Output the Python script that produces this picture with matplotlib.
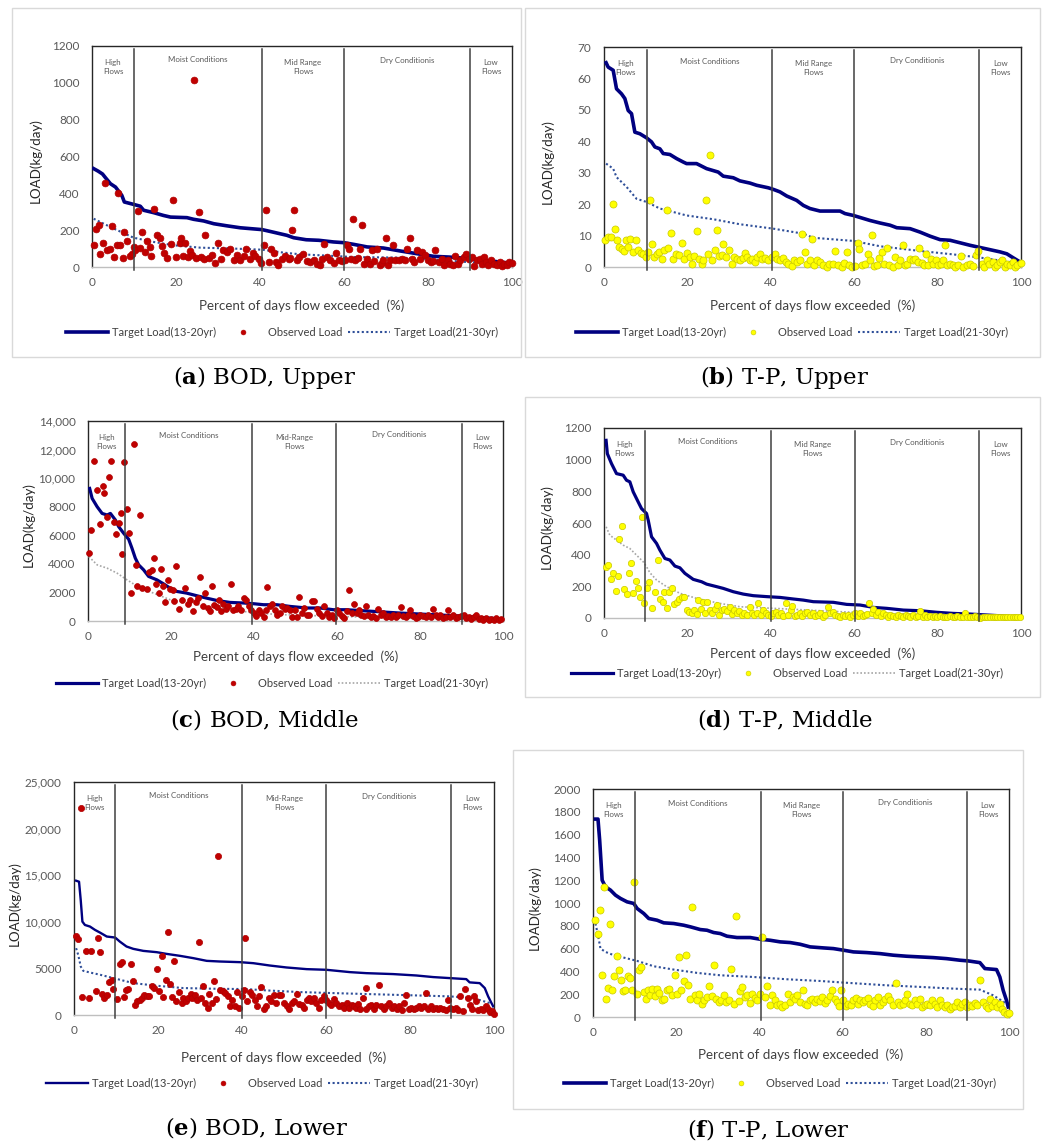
import matplotlib.pyplot as plt
from matplotlib.patches import Rectangle
from matplotlib.lines import Line2D

plt.rcParams['font.family'] = ['Lato', 'DejaVu Sans']
plt.rcParams['mathtext.fontset'] = 'custom'
plt.rcParams['mathtext.rm'] = 'DejaVu Serif'
plt.rcParams['mathtext.bf'] = 'DejaVu Serif:bold'

# ---------------- data (percent of days exceeded, load kg/day) ----------------
# (a) BOD, Upper
a_target = [(0.4,534),(1.5,520),(2.5,505),(3.2,485),(4.4,452),(5.6,434),(7.1,389),(7.7,353),(9.9,340),
            (11.5,330),(12.3,308),(14.7,295),(17.0,280),(18.7,271),(22.6,268),(24.2,259),(26.6,250),
            (29.0,235),(32.0,224),(35.3,213),(40.5,203),(43.0,190),(46.4,172),(48.0,159),(51.0,148),
            (54.0,145),(57.5,136),(60.0,132),(62.3,123),(65.5,109),(69.4,103),(73.4,87),(77.4,72),
            (81.3,58),(85.0,54),(87.3,50),(90.0,45),(93.0,38),(96.0,30),(99.0,22)]
a_target2 = [(0.4,262),(2.0,244),(4.4,217),(9.9,159),(14.7,136),(19.4,118),(25.8,105),(33.7,100),
             (40.5,94),(45.6,78),(49.6,69),(57.5,60),(62.3,54),(73.4,51),(81.3,40),(89.3,27),(99.6,18)]
a_obs = [(0.4,121),(1.0,208),(1.6,226),(2.0,72),(2.6,132),(3.2,456),(3.6,90),(4.2,100),(4.8,221),(5.3,54),
         (6.0,118),(6.1,402),(6.7,121),(7.4,49),(7.7,190),(8.3,141),(9.0,58),(9.5,69),(9.9,109),(10.3,90),
         (10.9,304),(11.5,103),(11.9,190),(12.5,81),(13.1,139),(13.7,109),(14.0,60),(14.8,317),(15.5,172),
         (16.1,159),(16.7,112),(17.1,76),(17.9,51),(18.7,127),(19.2,366),(20.1,54),(20.9,132),(21.2,156),
         (21.7,60),(22.2,132),(22.8,54),(23.3,87),(23.8,63),(24.4,1014),(24.8,49),(25.4,299),(26.0,54),
         (26.6,43),(27.0,176),(27.8,51),(28.6,63),(29.4,24),(29.9,132),(30.6,45),(31.3,90),(32.1,81),
         (32.9,100),(33.7,40),(34.5,63),(35.3,36),(36.1,58),(36.7,100),(37.5,45),(38.3,78),(38.9,60),
         (39.7,45),(40.2,24),(41.0,121),(41.4,311),(42.1,27),(42.7,100),(43.3,78),(43.9,27),(44.4,9),
         (45.2,42),(46.0,58),(46.8,45),(47.2,51),(47.6,199),(48.2,311),(48.7,36),(49.4,54),(50.2,72),
         (51.2,33),(52.0,27),(52.8,36),(53.6,18),(54.2,9),(54.8,45),(55.3,127),(55.9,54),(56.7,40),
         (57.5,24),(58.2,76),(58.7,40),(59.5,33),(60.3,36),(60.7,121),(61.1,100),(61.7,45),(62.1,262),
         (62.7,36),(63.3,51),(63.7,100),(64.3,226),(64.7,18),(65.5,45),(66.1,15),(66.7,94),(67.2,33),
         (67.9,100),(68.5,9),(69.0,22),(69.4,40),(70.1,159),(70.4,9),(71.0,36),(71.7,121),(72.2,36),
         (73.0,36),(73.8,45),(74.6,36),(75.0,100),(75.6,159),(76.2,45),(76.7,27),(77.4,90),(78.0,45),
         (78.6,81),(79.4,63),(79.9,36),(80.7,27),(81.3,33),(81.7,90),(82.5,27),(83.3,45),(83.9,9),
         (84.7,36),(85.3,18),(85.9,9),(86.5,58),(87.1,18),(87.7,36),(88.5,54),(89.1,72),(89.7,45),
         (90.5,54),(91.0,5),(91.7,36),(92.3,45),(92.9,18),(93.3,54),(93.9,27),(94.4,9),(95.0,36),
         (95.6,18),(96.4,9),(97.1,27),(97.6,5),(98.2,18),(98.8,9),(99.4,27),(100,22)]

# (b) T-P, Upper
b_target = [(0.5,65.0),(1.0,63.6),(2.2,62.6),(3.0,56.7),(4.2,55.1),(5.0,53.6),(5.8,49.8),(6.6,48.8),
            (7.4,42.9),(8.6,42.4),(10.2,41.1),(11.4,39.8),(12.2,38.2),(13.4,37.6),(14.2,36.1),(15.8,35.8),
            (17.4,34.5),(19.0,33.4),(19.8,32.9),(22.2,32.9),(24.6,31.3),(27.4,30.2),(28.6,28.9),(31.0,28.4),
            (32.6,27.4),(35.0,26.7),(36.6,26.0),(39.4,25.2),(40.6,24.7),(42.2,23.9),(43.8,22.6),(46.2,21.2),
            (47.8,19.6),(49.4,18.6),(51.8,17.8),(56.6,17.8),(57.8,17.0),(59.8,16.4),(63.8,14.8),(66.2,14.0),
            (68.6,13.3),(70.2,12.5),(73.4,12.2),(75.8,11.1),(78.2,9.8),(80.6,8.7),(83.0,8.5),(85.4,7.7),
            (87.8,6.9),(90.2,6.2),(92.6,5.5),(95.0,4.8),(96.6,4.2),(97.8,3.2),(99.4,1.9)]
b_target2 = [(0.5,32.9),(2.2,31.3),(3.0,28.6),(5.4,25.5),(7.8,21.7),(10.2,20.7),(13.4,18.6),(19.8,16.4),
             (26.2,15.2),(32.6,13.6),(40.6,12.2),(47.8,10.6),(50.2,9.3),(59.8,8.3),(66.2,6.6),(75.8,5.1),
             (83.8,4.0),(90.2,3.0),(99.8,1.1)]
b_obs = [(0.2,8.7),(0.9,9.5),(1.6,9.5),(2.1,20.1),(2.6,12.2),(3.2,8.5),(3.7,6.4),(4.2,5.8),(4.8,5.1),
         (5.3,8.7),(5.8,6.4),(6.2,9.0),(6.9,4.8),(7.7,8.7),(8.2,5.5),(8.8,4.5),(9.4,4.2),(10.1,3.2),
         (10.6,4.8),(11.0,21.2),(11.4,7.4),(12.0,3.2),(12.6,4.2),(13.3,4.8),(13.8,2.7),(14.4,5.5),
         (15.0,18.0),(15.4,6.2),(16.0,10.9),(16.6,2.7),(17.3,4.2),(18.1,3.7),(18.8,7.7),(19.3,2.7),
         (19.8,4.5),(20.6,3.2),(21.0,1.1),(21.6,3.4),(22.2,11.3),(22.8,2.7),(23.4,1.1),(23.8,2.3),
         (24.4,21.2),(24.9,4.2),(25.4,35.5),(26.0,2.3),(26.6,5.5),(27.0,11.7),(27.6,3.4),(28.2,3.7),
         (28.6,7.4),(29.2,3.2),(30.0,5.5),(30.6,1.1),(31.2,3.2),(31.8,2.7),(32.6,2.1),(33.3,3.0),
         (33.8,4.5),(34.4,3.2),(35.0,2.3),(35.6,2.7),(36.2,1.6),(36.8,3.2),(37.4,4.2),(38.0,2.7),
         (38.6,3.0),(39.4,2.3),(40.2,3.2),(41.0,4.0),(41.6,2.7),(42.2,2.3),(43.0,3.0),(43.6,1.6),
         (44.2,1.1),(45.0,0.3),(45.6,2.1),(46.2,1.6),(47.0,2.3),(47.6,10.6),(48.2,4.8),(48.8,1.1),
         (49.4,2.3),(49.8,9.0),(50.4,0.5),(51.0,2.1),(51.8,1.6),(52.6,0.5),(53.4,0.0),(54.0,1.1),
         (54.8,0.8),(55.4,5.1),(56.2,0.5),(57.0,0.0),(57.6,1.3),(58.2,4.8),(58.8,0.5),(59.4,0.0),
         (60.2,0.2),(60.8,7.6),(61.2,5.8),(61.8,0.5),(62.6,1.1),(63.2,4.2),(63.8,2.3),(64.3,10.3),
         (64.8,0.2),(65.4,0.5),(65.9,3.0),(66.6,4.8),(67.2,1.1),(67.8,6.2),(68.4,0.5),(69.2,0.0),
         (69.8,3.2),(70.4,0.5),(71.0,2.3),(71.6,6.9),(72.2,0.5),(72.7,1.1),(73.4,2.7),(74.0,2.3),
         (74.6,2.7),(75.2,1.6),(75.6,6.2),(76.2,1.3),(76.7,0.5),(77.2,4.2),(77.8,0.5),(78.3,2.7),
         (79.0,1.1),(79.6,2.3),(80.2,0.5),(80.7,1.1),(81.4,2.3),(81.8,6.9),(82.3,0.5),(83.0,1.1),
         (83.6,0.5),(84.2,0.0),(85.0,0.5),(85.5,3.4),(86.2,0.0),(87.0,0.5),(87.8,1.1),(88.6,0.2),
         (89.2,3.7),(89.8,5.1),(90.6,1.1),(91.1,0.0),(91.8,2.3),(92.4,1.1),(93.2,1.6),(93.8,0.0),
         (94.3,0.5),(95.0,1.6),(95.5,2.3),(96.2,0.0),(96.7,1.1),(97.4,0.5),(98.0,1.6),(98.6,0.0),
         (99.1,0.5),(100,1.3)]

# (c) BOD, Middle
c_target = [(0.4,9280),(1.0,8580),(2.2,8000),(3.4,7530),(4.6,7420),(5.4,7530),(6.6,7070),(7.4,6600),
            (8.6,6140),(9.8,5720),(10.6,5090),(11.4,4400),(12.2,3930),(13.4,3580),(14.6,3120),(16.6,2880),
            (18.2,2600),(19.8,2300),(21.4,2070),(23.8,1950),(26.2,1770),(28.6,1600),(31.0,1440),(34.2,1300),
            (37.5,1260),(39.9,1210),(42.3,1140),(45.5,1140),(48.7,1020),(52.7,910),(55.9,910),(59.1,790),
            (62.3,790),(75.0,560),(91.0,330),(99.6,140)]
c_target2 = [(0.2,4510),(2.2,3930),(4.6,3700),(7.0,3350),(9.4,2880),(12.6,2300),(15.8,1950),(19.8,1490),
             (23.8,1300),(28.6,1020),(35.0,790),(39.9,560),(47.1,440),(59.1,330),(75.0,210),(99.2,90)]
c_obs = [(0.2,4740),(0.7,6370),(1.4,11200),(2.2,9160),(3.0,6790),(3.5,9440),(3.9,8970),(4.6,7300),
         (5.0,10050),(5.5,11200),(6.2,6950),(6.7,6090),(7.4,6840),(7.9,7530),(8.3,4700),(8.7,11140),
         (9.4,7810),(9.9,6180),(10.4,1950),(11.0,12370),(11.5,3930),(11.9,2420),(12.6,7420),(13.1,2300),
         (14.2,2230),(14.8,3400),(15.4,3540),(16.0,4400),(16.4,2580),(17.0,1950),(17.6,3630),(18.0,2420),
         (18.6,1300),(19.2,2840),(19.8,2230),(20.4,2140),(20.8,1370),(21.2,3860),(22.0,840),(22.6,1440),
         (23.4,2300),(24.0,1210),(24.6,1490),(25.4,670),(26.1,1300),(26.6,1600),(27.0,3070),(27.6,1070),
         (28.2,1950),(28.8,910),(29.3,670),(29.8,2420),(30.4,1140),(31.0,980),(31.6,1440),(32.0,670),
         (32.6,1210),(33.3,840),(33.8,1020),(34.4,2600),(35.0,790),(35.7,840),(36.2,1070),(36.8,790),
         (37.5,1600),(38.0,1490),(38.7,1070),(39.2,790),(40.0,560),(40.5,330),(41.1,790),(41.6,560),
         (42.3,280),(42.8,790),(43.2,2370),(43.9,1020),(44.4,1210),(45.1,790),(45.6,440),(46.3,560),
         (46.8,1020),(47.5,840),(48.0,910),(48.7,740),(49.2,280),(49.9,790),(50.4,280),(50.9,1670),
         (51.5,560),(52.0,910),(52.7,440),(53.3,440),(53.9,1420),(54.4,1420),(55.1,840),(55.7,560),
         (56.3,330),(56.9,1020),(57.5,560),(58.1,280),(58.7,440),(59.3,210),(59.9,740),(60.5,560),
         (61.1,330),(61.7,210),(62.3,670),(62.9,2140),(63.5,560),(64.1,1210),(64.7,560),(65.4,790),
         (65.9,440),(66.5,330),(66.9,1020),(67.5,440),(68.1,280),(68.7,330),(69.4,210),(69.9,840),
         (70.5,440),(71.1,560),(71.8,280),(72.3,370),(72.9,280),(73.5,440),(74.2,280),(74.7,440),
         (75.4,980),(75.9,370),(76.6,280),(77.1,440),(77.7,790),(78.3,330),(79.0,210),(79.6,280),
         (80.1,440),(80.8,330),(81.4,280),(82.0,440),(82.6,280),(83.2,840),(83.8,440),(84.4,280),
         (84.9,440),(85.6,210),(86.2,280),(86.8,740),(87.3,280),(88.0,440),(88.6,210),(89.2,280),
         (90.0,330),(90.6,440),(91.2,210),(91.8,280),(92.4,140),(92.9,280),(93.6,440),(94.1,140),
         (94.8,210),(95.3,90),(96.0,210),(96.6,90),(97.2,140),(97.8,90),(98.4,210),(99.0,90),(99.6,140)]

# (d) T-P, Middle
d_target = [(0.5,1122),(0.8,1038),(1.8,975),(3.0,912),(4.6,902),(5.4,870),(6.2,860),(7.0,797),(8.2,733),
            (9.0,691),(10.2,660),(10.6,618),(11.4,513),(12.6,471),(13.4,429),(14.6,376),(15.8,366),
            (17.0,328),(18.2,317),(19.4,282),(21.4,244),(23.4,229),(24.6,214),(27.0,198),(28.6,187),
            (31.0,166),(33.4,151),(35.8,141),(39.0,135),(42.2,130),(45.4,120),(47.8,113),(50.2,103),
            (55.0,99),(58.2,86),(61.4,82),(64.6,67),(67.8,61),(71.8,50),(75.8,46),(79.8,36),(83.8,29),
            (87.8,25),(91.8,19),(95.8,13),(99.8,4)]
d_target2 = [(0.5,576),(1.4,523),(3.0,492),(4.6,460),(6.2,439),(7.8,397),(9.4,355),(10.2,324),(11.0,286),
             (12.6,240),(15.0,198),(18.2,156),(22.2,124),(27.8,92),(32.6,71),(40.6,61),(45.4,55),(51.8,46),
             (59.8,36),(67.8,29),(79.8,23),(91.8,15),(99.8,8)]
d_obs = [(0.4,324),(1.0,334),(1.6,246),(2.2,286),(2.8,170),(3.3,265),(3.7,502),(4.2,584),(4.9,181),
         (5.4,149),(6.0,286),(6.4,349),(7.0,156),(7.7,233),(8.2,191),(8.6,135),(9.2,639),(9.7,97),
         (10.2,187),(10.9,227),(11.4,61),(12.2,162),(12.9,366),(13.4,118),(14.1,103),(14.5,162),(15.0,65),
         (15.7,162),(16.2,187),(16.8,86),(17.4,99),(18.1,120),(18.6,135),(19.3,130),(19.8,50),(20.4,40),
         (21.0,29),(21.6,50),(22.2,25),(22.6,113),(23.2,55),(23.7,99),(24.2,29),(24.8,99),(25.4,50),
         (26.0,34),(26.6,55),(27.0,82),(27.6,19),(28.2,50),(28.8,55),(29.4,46),(30.1,71),(30.6,25),
         (31.2,50),(31.8,29),(32.4,46),(33.0,19),(33.6,34),(34.2,19),(34.9,71),(35.4,29),(36.0,19),
         (36.6,29),(37.0,92),(37.6,19),(38.2,50),(38.8,29),(39.4,19),(40.0,13),(40.6,29),(41.2,36),
         (41.8,19),(42.4,29),(43.0,13),(43.6,97),(44.2,19),(44.8,50),(45.2,76),(45.8,13),(46.4,19),
         (47.0,29),(47.6,13),(48.2,29),(48.8,36),(49.4,19),(50.0,29),(50.6,13),(51.2,19),(51.8,29),
         (52.4,4),(53.0,19),(53.6,71),(54.2,29),(54.8,36),(55.4,19),(56.0,13),(56.6,4),(57.2,19),
         (57.8,13),(58.4,19),(59.0,8),(59.6,19),(60.2,29),(60.8,13),(61.4,29),(62.0,13),(62.6,19),
         (63.1,25),(63.6,92),(64.2,29),(64.6,57),(65.2,19),(65.8,36),(66.4,13),(67.0,29),(67.6,19),
         (68.2,8),(68.7,19),(69.4,13),(70.0,8),(70.6,19),(71.2,13),(71.8,8),(72.4,19),(73.0,13),
         (73.5,8),(74.2,19),(74.8,8),(75.4,13),(75.8,44),(76.4,8),(77.0,19),(77.5,8),(78.2,13),(78.8,4),
         (79.4,13),(79.9,4),(80.6,13),(81.2,4),(81.8,8),(82.3,4),(83.0,13),(83.6,8),(84.2,4),(84.7,13),
         (85.4,4),(86.0,8),(86.6,29),(87.1,4),(87.8,8),(88.4,4),(89.0,13),(89.5,4),(90.2,0),(90.8,8),
         (91.4,4),(91.9,8),(92.6,4),(93.2,8),(93.8,4),(94.3,8),(95.0,4),(95.6,4),(96.2,4),(96.7,4),
         (97.4,4),(98.0,4),(98.6,4),(99.1,4),(99.8,4)]

# (e) BOD, Lower
e_target = [(0.5,14410),(1.2,14300),(1.6,12340),(2.0,10020),(2.6,9660),(3.8,9490),(5.0,9130),(6.2,8840),
            (7.8,8420),(9.8,8310),(10.9,7880),(12.5,7350),(14.1,7100),(16.5,6880),(19.7,6740),(22.0,6560),
            (25.2,6350),(28.4,6100),(31.6,5810),(34.7,5740),(39.5,5670),(42.7,5560),(46.6,5310),(50.6,5100),
            (55.4,4920),(60.1,4850),(65.7,4600),(69.6,4490),(76.0,4390),(81.5,4240),(85.5,4070),(89.4,3960),
            (93.4,3850),(94.2,3500),(96.6,3420),(97.8,2890),(98.6,2000),(99.4,1280),(99.8,930)]
e_target2 = [(0.5,7170),(1.0,6450),(1.6,5210),(2.2,4740),(3.8,4560),(6.2,4320),(9.4,3960),(14.1,3420),
             (19.7,3140),(26.0,2890),(33.1,2820),(41.1,2780),(45.8,2640),(53.8,2460),(61.7,2350),(69.6,2250),
             (81.5,2100),(89.4,2000),(95.0,1820),(99.0,1280)]
e_obs = [(0.5,8490),(1.0,8170),(1.6,22250),(2.0,1930),(2.9,6880),(3.6,1820),(4.0,6880),(5.2,2530),
         (5.6,8240),(6.2,6810),(6.7,2280),(7.2,1820),(7.8,2180),(8.3,3530),(9.0,3780),(9.4,2780),
         (10.3,1710),(10.9,5490),(11.5,5740),(11.9,1890),(12.4,2710),(12.9,2780),(13.5,5460),(14.1,3600),
         (14.5,1110),(15.1,1460),(15.7,1640),(16.3,1820),(16.7,2180),(17.3,2070),(17.9,2070),(18.5,3070),
         (19.0,2890),(19.7,4920),(20.3,2530),(20.9,6280),(21.3,1890),(21.8,3710),(22.3,8950),(22.8,3320),
         (23.4,1890),(23.9,5810),(24.4,1460),(25.0,2430),(25.6,1280),(26.0,1820),(26.6,1460),(27.2,1820),
         (27.8,2280),(28.2,1820),(28.8,2180),(29.2,1570),(29.7,7810),(30.2,1820),(30.8,3070),(31.3,1280),
         (31.8,750),(32.2,2280),(32.8,1280),(33.3,3600),(33.7,1710),(34.3,17050),(34.7,2710),(35.4,2530),
         (35.9,2350),(36.6,2070),(37.1,930),(37.7,1640),(38.3,1000),(38.9,2430),(39.3,750),(39.9,2000),
         (40.5,2710),(40.7,8240),(41.2,1460),(41.9,2430),(42.5,2180),(43.1,1640),(43.6,930),(44.1,2000),
         (44.6,2960),(45.3,640),(45.8,930),(46.5,1820),(47.0,1460),(47.6,2180),(48.2,1280),(48.8,2180),
         (49.4,2180),(50.0,1280),(50.6,1000),(51.1,640),(51.8,1280),(52.3,1460),(53.0,2280),(53.5,1210),
         (54.2,1110),(54.7,750),(55.4,1640),(55.9,1820),(56.5,1460),(57.1,1820),(57.7,1280),(58.3,750),
         (58.9,1640),(59.5,2000),(60.1,1640),(60.7,1280),(61.3,1110),(61.9,1710),(62.5,1280),(63.1,930),
         (63.7,1110),(64.2,750),(64.9,1280),(65.5,750),(66.1,1110),(66.6,930),(67.1,750),(67.6,1180),
         (68.2,640),(68.8,1820),(69.5,640),(69.6,2890),(70.3,930),(70.8,1110),(71.4,640),(72.0,1110),
         (72.6,3250),(73.2,930),(73.7,640),(74.4,930),(75.0,1280),(75.6,750),(76.1,930),(76.8,640),
         (77.4,930),(78.0,500),(78.5,1280),(79.1,2180),(79.7,640),(80.3,750),(80.9,640),(81.5,750),
         (82.2,930),(82.7,750),(83.3,930),(83.8,2350),(84.3,640),(84.9,930),(85.5,640),(86.1,750),
         (86.7,640),(87.2,750),(87.9,640),(88.5,500),(89.1,1640),(89.6,750),(90.2,640),(90.9,750),
         (91.4,500),(92.0,2070),(92.6,390),(93.2,2780),(93.7,1820),(94.2,1110),(94.8,640),(95.2,2000),
         (95.8,1460),(96.3,500),(97.0,640),(97.5,570),(98.0,930),(98.6,640),(99.1,290),(99.6,390),(100,140)]

# (f) T-P, Lower
f_target = [(0.6,1736),(1.2,1736),(1.6,1552),(1.9,1376),(2.2,1200),(3.0,1142),(4.2,1113),(5.4,1069),
            (6.6,1040),(8.2,1010),(9.8,996),(10.6,952),(12.2,908),(13.4,864),(15.4,849),(17.0,826),
            (19.4,820),(21.8,805),(23.4,791),(25.8,767),(27.4,761),(29.0,741),(30.6,732),(32.2,709),
            (34.6,697),(37.8,697),(40.2,682),(42.6,673),(45.0,659),(47.4,653),(49.8,638),(52.2,615),
            (55.4,606),(57.8,600),(60.2,586),(62.6,571),(65.8,565),(69.0,556),(72.2,542),(75.4,533),
            (78.6,527),(81.8,521),(85.0,512),(88.2,498),(90.2,492),(93.0,477),(94.2,425),(97.0,416),
            (97.8,351),(98.6,234),(99.4,146),(99.8,88)]
f_target2 = [(0.6,820),(1.2,717),(1.8,600),(3.0,571),(5.0,542),(7.4,521),(10.6,492),(14.6,445),(19.4,416),
             (25.0,387),(30.6,366),(38.6,351),(46.6,331),(54.6,316),(60.2,302),(70.6,278),(78.6,264),
             (86.6,249),(93.0,240),(96.2,190),(99.4,117)]
f_obs = [(0.6,855),(1.1,732),(1.6,937),(2.2,366),(2.7,1142),(3.1,161),(3.5,255),(4.0,814),(4.6,234),
         (5.1,360),(5.8,533),(6.2,410),(6.7,328),(7.2,228),(7.8,234),(8.3,357),(8.8,346),(9.4,234),
         (9.9,1180),(10.6,205),(11.1,410),(11.5,439),(12.2,220),(12.7,161),(13.2,234),(13.8,190),
         (14.3,249),(14.8,182),(15.4,249),(15.9,211),(16.6,146),(17.1,161),(17.8,234),(18.3,249),
         (18.9,190),(19.6,366),(20.2,205),(20.7,527),(21.2,240),(21.8,316),(22.3,542),(22.8,284),
         (23.4,161),(23.9,966),(24.4,190),(25.0,152),(25.5,199),(26.2,117),(26.7,152),(27.4,176),
         (27.9,269),(28.6,182),(29.1,460),(29.6,161),(30.2,132),(30.7,146),(31.4,190),(31.9,132),
         (32.6,146),(33.1,422),(33.8,117),(34.3,884),(35.0,141),(35.4,228),(35.9,264),(36.6,176),
         (37.1,190),(37.8,123),(38.3,199),(39.0,170),(39.5,152),(40.2,205),(40.7,703),(41.4,176),
         (41.9,269),(42.6,102),(43.1,190),(43.8,146),(44.3,102),(45.0,117),(45.5,88),(46.2,102),
         (46.8,199),(47.4,132),(48.0,176),(48.6,161),(49.1,190),(49.8,132),(50.4,234),(51.0,117),
         (51.5,102),(52.2,152),(52.7,161),(53.4,132),(53.9,161),(54.6,141),(55.1,176),(55.8,123),
         (56.3,146),(57.0,182),(57.5,234),(58.2,161),(58.6,132),(59.1,94),(59.5,234),(60.2,146),
         (60.7,94),(61.4,117),(62.0,102),(62.6,146),(63.2,170),(63.8,117),(64.3,146),(65.0,132),
         (65.5,152),(66.2,170),(66.7,117),(67.4,94),(67.9,146),(68.6,176),(69.1,102),(69.8,132),
         (70.3,161),(71.0,182),(71.5,146),(72.2,102),(72.8,302),(73.4,132),(73.9,102),(74.6,117),
         (75.1,146),(75.6,199),(76.2,117),(76.7,102),(77.4,146),(77.9,117),(78.6,161),(79.1,88),
         (79.8,102),(80.3,117),(81.0,102),(81.5,146),(82.2,111),(82.7,88),(83.4,146),(83.9,102),
         (84.6,88),(85.1,102),(85.8,73),(86.3,88),(87.0,94),(87.5,132),(88.2,88),(88.7,117),(89.4,132),
         (89.9,88),(90.6,102),(91.1,94),(91.8,123),(92.3,108),(93.1,322),(93.8,132),(94.4,97),(95.0,79),
         (95.4,161),(96.0,94),(96.6,132),(97.1,88),(97.8,117),(98.3,73),(98.8,44),(99.4,23),(100,35)]

# flow-regime boundaries (percent) and y ticks of each panel
bounds = {'a': [10, 40.5, 60, 90], 'b': [10.4, 40.4, 60, 90], 'c': [9, 39.6, 59.8, 90.2],
          'd': [9.8, 40, 60.2, 90], 'e': [9.8, 40, 60.1, 89.8], 'f': [10, 40.3, 60, 89.9]}
yticks = {'a': [0, 200, 400, 600, 800, 1000, 1200],
          'b': [0, 10, 20, 30, 40, 50, 60, 70],
          'c': [0, 2000, 4000, 6000, 8000, 10000, 12000, 14000],
          'd': [0, 200, 400, 600, 800, 1000, 1200],
          'e': [0, 5000, 10000, 15000, 20000, 25000],
          'f': [0, 200, 400, 600, 800, 1000, 1200, 1400, 1600, 1800, 2000]}
ytick_labels = {'c': ['0', '2000', '4000', '6000', '8000', '10,000', '12,000', '14,000'],
                'e': ['0', '5000', '10,000', '15,000', '20,000', '25,000']}
xticks = [0, 20, 40, 60, 80, 100]
captions = {'a': 'BOD, Upper', 'b': 'T-P, Upper', 'c': 'BOD, Middle',
            'd': 'T-P, Middle', 'e': 'BOD, Lower', 'f': 'T-P, Lower'}
legend_labels = ['Target Load(13-20yr)', 'Observed Load', 'Target Load(21-30yr)']

NAVY = '#000080'
RED = '#C00000'
YEL = '#FFFF00'

# layout in pixels: axes (left, top, right, bottom), frame, label and legend spots
W, H = 1046, 1146
layout = {
    'a': dict(ax=(92, 46, 512, 267), frame=(12, 8, 521, 357), ylab=35, xlab=306, leg=(282, 332),
              cap=(265, 377), obs=(RED, '#B00000', 24), lw=2.6, dash='navy', mid='Mid Range'),
    'b': dict(ax=(604, 47, 1021, 267), frame=(525, 8, 1040, 357), ylab=547, xlab=306, leg=(792, 332),
              cap=(785, 377), obs=(YEL, '#C8C800', 26), lw=2.6, dash='navy', mid='Mid Range'),
    'c': dict(ax=(88, 421, 503, 621), frame=None, ylab=28, xlab=657, leg=(272, 683),
              cap=(265, 720), obs=(RED, '#B00000', 18), lw=2.3, dash='gray', mid='Mid-Range'),
    'd': dict(ax=(604, 428, 1021, 618), frame=(525, 397, 1040, 697), ylab=546, xlab=654, leg=(787, 673),
              cap=(785, 720), obs=(YEL, '#C8C800', 21), lw=2.3, dash='gray', mid='Mid Range'),
    'e': dict(ax=(74, 782, 494, 1015), frame=None, ylab=14, xlab=1058, leg=(262, 1083),
              cap=(257, 1128), obs=(RED, '#B00000', 20), lw=1.7, dash='navy', mid='Mid-Range'),
    'f': dict(ax=(593, 789, 1009, 1017), frame=(513, 750, 1023, 1109), ylab=534, xlab=1055, leg=(780, 1083),
              cap=(768, 1130), obs=(YEL, '#C8C800', 26), lw=2.6, dash='navy', mid='Mid Range'),
}
series = {'a': (a_target, a_target2, a_obs), 'b': (b_target, b_target2, b_obs),
          'c': (c_target, c_target2, c_obs), 'd': (d_target, d_target2, d_obs),
          'e': (e_target, e_target2, e_obs), 'f': (f_target, f_target2, f_obs)}


def fx(px):
    return px / W


def fy(py):
    return 1 - py / H


fig = plt.figure(figsize=(W / 100, H / 100), dpi=100)
fig.patch.set_facecolor('white')

for key in 'abcdef':
    L = layout[key]
    l, t, r, b = L['ax']
    ax = fig.add_axes([fx(l), fy(b), (r - l) / W, (b - t) / H])
    target, target2, obs = series[key]

    if L['dash'] == 'navy':
        dash_kw = dict(color='#2F4F99', lw=1.5, ls=(0, (1, 1.2)))
    else:
        dash_kw = dict(color='#A6A6A6', lw=1.2, ls=(0, (1, 1.2)))

    tx, ty = zip(*target)
    ax.plot(tx, ty, color=NAVY, lw=L['lw'], zorder=3, solid_joinstyle='round')
    dx, dy = zip(*target2)
    ax.plot(dx, dy, zorder=3, **dash_kw)
    ox, oy = zip(*obs)
    fc, ec, s = L['obs']
    ax.scatter(ox, oy, s=s, c=fc, edgecolors=ec, linewidths=0.5, zorder=4, clip_on=False)

    ymax = yticks[key][-1]
    ax.set_xlim(0, 100)
    ax.set_ylim(0, ymax)
    ax.set_xticks(xticks)
    ax.set_yticks(yticks[key])
    if key in ytick_labels:
        ax.set_yticklabels(ytick_labels[key])
    ax.tick_params(length=0, labelsize=8.5, colors='#595959', pad=9)
    ax.tick_params(axis='x', pad=7)
    for side in ['left', 'top', 'right']:
        ax.spines[side].set_color('#262626')
        ax.spines[side].set_linewidth(1.0)
    ax.spines['bottom'].set_color('#BFBFBF')
    ax.spines['bottom'].set_linewidth(1.0)

    # flow regime separators and names
    bd = bounds[key]
    for xb in bd:
        ax.axvline(xb, ymin=-0.015, ymax=0.985, color='#404040', lw=1.1, zorder=5, clip_on=False)
    edges = [0] + bd + [100]
    names = ['High\nFlows', 'Moist Conditions', L['mid'] + '\nFlows', 'Dry Conditionis', 'Low\nFlows']
    hpx = b - t
    for i, name in enumerate(names):
        xc = (edges[i] + edges[i + 1]) / 2
        yc = 1 - (14 if '\n' not in name else 21) / hpx
        ax.text(xc, yc, name, transform=ax.get_xaxis_transform(), ha='center', va='center',
                fontsize=5.7, color='#595959', linespacing=1.25)

    ax.set_xlabel('Percent of days flow exceeded  (%)', fontsize=9.6, color='#404040')
    ax.xaxis.label.set_va('center')
    ax.xaxis.set_label_coords(fx((l + r) / 2), fy(L['xlab']), transform=fig.transFigure)
    ax.set_ylabel('LOAD(kg/day)', fontsize=9.6, color='#262626')
    ax.yaxis.label.set_va('center')
    ax.yaxis.set_label_coords(fx(L['ylab']), fy(t + 0.52 * (b - t)), transform=fig.transFigure)

    h1 = Line2D([], [], color=NAVY, lw=L['lw'])
    h2 = Line2D([], [], ls='none', marker='o', ms=3.5, mfc=fc, mec=ec, mew=0.4)
    h3 = Line2D([], [], **dash_kw)
    fig.legend([h1, h2, h3], legend_labels, loc='center', bbox_to_anchor=(fx(L['leg'][0]), fy(L['leg'][1])),
               ncol=3, frameon=False, fontsize=8, handlelength=3.8, handletextpad=0.3,
               columnspacing=0.55, labelcolor='#404040')

    if L['frame'] is not None:
        x0, y0, x1, y1 = L['frame']
        fig.patches.append(Rectangle((fx(x0), fy(y1)), (x1 - x0) / W, (y1 - y0) / H, fill=False,
                                     edgecolor='#D9D9D9', lw=1.0, transform=fig.transFigure))

    cx, cy = L['cap']
    fig.text(fx(cx), fy(cy), r'($\mathbf{' + key + r'}$) ' + captions[key], ha='center', va='center',
             fontsize=16.5, family='DejaVu Serif', color='black')

fig.savefig('out.png', dpi=100, facecolor='white')
